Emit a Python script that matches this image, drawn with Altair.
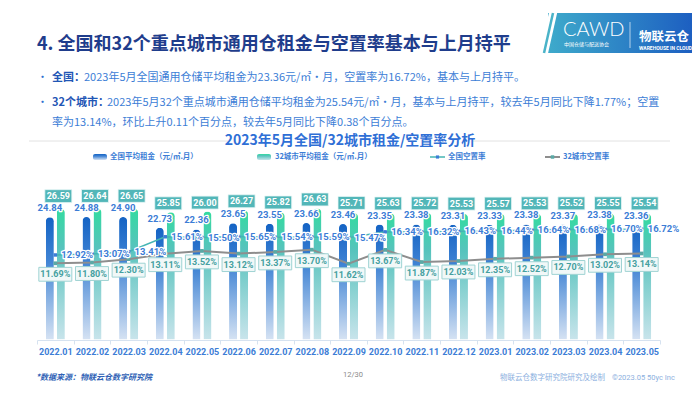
import altair as alt
import pandas as pd

# ---------------- data ----------------
months = ["2022.01", "2022.02", "2022.03", "2022.04", "2022.05", "2022.06", "2022.07", "2022.08",
          "2022.09", "2022.10", "2022.11", "2022.12", "2023.01", "2023.02", "2023.03", "2023.04", "2023.05"]
rent_nat = [24.84, 24.88, 24.90, 22.73, 22.36, 23.65, 23.55, 23.66, 23.46, 23.35, 23.38, 23.31,
            23.33, 23.38, 23.37, 23.38, 23.36]
rent_city = [26.59, 26.64, 26.65, 25.85, 26.00, 26.27, 25.82, 26.63, 25.71, 25.63, 25.72, 25.53,
             25.57, 25.53, 25.52, 25.55, 25.54]
vac_nat = [12.92, 13.07, 13.41, 15.61, 15.50, 15.65, 15.54, 15.59, 15.47, 16.34, 16.32, 16.43,
           16.44, 16.64, 16.68, 16.70, 16.72]
vac_city = [11.69, 11.80, 12.30, 13.11, 13.52, 13.12, 13.37, 13.70, 11.62, 13.67, 11.87, 12.03,
            12.35, 12.52, 12.70, 13.02, 13.14]
series_names = ["全国", "32城市"]

wide = pd.DataFrame({"month": months, "rent_nat": rent_nat, "rent_city": rent_city,
                     "vac_nat": vac_nat, "vac_city": vac_city})
long = pd.concat([
    pd.DataFrame({"month": months, "series": series_names[0], "rent": rent_nat}),
    pd.DataFrame({"month": months, "series": series_names[1], "rent": rent_city}),
], ignore_index=True)
dummy = pd.DataFrame({"a": [0]})

CJK = "Noto Sans CJK SC"
NUM = "Roboto"
BLUE = "#3c7dd6"

# ---------------- scales ----------------
X = alt.Scale(domain=months, range=[29, 652], paddingInner=0, paddingOuter=0)
XO = alt.Scale(domain=series_names, paddingInner=0.27, paddingOuter=0.8)
YR = alt.Scale(domain=[0, 30], range=[331.5, 183.9], nice=False, zero=False)
YV = alt.Scale(domain=[0, 20], range=[334.3, 199.1], nice=False, zero=False)
AX = alt.Axis(offset=-45, orient="bottom", title=None, grid=False, labelAngle=0,
              domainColor="#d6e2f0", tickColor="#d6e2f0", tickSize=4, tickBand="extent",
              labelColor=BLUE, labelFont=NUM, labelFontWeight="bold", labelFontSize=9,
              labelPadding=3, labelOverlap=False)


def grad(stops, horizontal=False):
    return alt.Gradient(gradient="linear",
                        stops=[alt.GradientStop(color=c, offset=o) for o, c in stops],
                        x1=0, x2=1 if horizontal else 0, y1=0, y2=0 if horizontal else 1)


G_NAT = [(0, "#1463c4"), (0.35, "#3f83d4"), (1, "#d5e2f3")]
G_CITY = [(0, "#33dba0"), (0.3, "#57c3bd"), (1, "#c8e4eb")]

xm = alt.X("month:N", scale=X, axis=AX)

# ---------------- bars ----------------
bars_nat = alt.Chart(long).transform_filter(alt.datum.series == series_names[0]).mark_bar(
    color=grad(G_NAT), cornerRadiusTopLeft=4, cornerRadiusTopRight=4
).encode(x=xm, xOffset=alt.XOffset("series:N", scale=XO),
         y=alt.Y("rent:Q", scale=YR, axis=None))
bars_city = alt.Chart(long).transform_filter(alt.datum.series == series_names[1]).mark_bar(
    color=grad(G_CITY), cornerRadiusTopLeft=4, cornerRadiusTopRight=4
).encode(x=xm, xOffset=alt.XOffset("series:N", scale=XO),
         y=alt.Y("rent:Q", scale=YR, axis=None))

base = alt.Chart(wide)

# ---------------- lines ----------------
line_city = base.mark_line(color="#8e8e8e", strokeWidth=2).encode(
    x=xm, y=alt.Y("vac_city:Q", scale=YV, axis=None))
pts_city = base.mark_point(shape="square", size=14, filled=True, color="#5aa9a6", opacity=1).encode(
    x=xm, y=alt.Y("vac_city:Q", scale=YV, axis=None))
line_nat = base.mark_line(color="#45b5b3", strokeWidth=1.5).encode(
    x=xm, y=alt.Y("vac_nat:Q", scale=YV, axis=None))
pts_nat = base.mark_point(shape="square", size=12, filled=True, color=BLUE, opacity=1).encode(
    x=xm, y=alt.Y("vac_nat:Q", scale=YV, axis=None))

# ---------------- labels ----------------
rent_lbl_halo = base.mark_text(dx=-5.5, dy=-4, baseline="bottom", font=NUM, fontWeight="bold",
                               fontSize=9.5, color="white", stroke="white", strokeWidth=2.5,
                               strokeJoin="round").encode(
    x=xm, y=alt.Y("rent_nat:Q", scale=YR, axis=None), text=alt.Text("rent_nat:Q", format=".2f"))
rent_lbl = base.mark_text(dx=-5.5, dy=-4, baseline="bottom", font=NUM, fontWeight="bold",
                          fontSize=9.5, color=BLUE).encode(
    x=xm, y=alt.Y("rent_nat:Q", scale=YR, axis=None), text=alt.Text("rent_nat:Q", format=".2f"))

boxed = base.transform_calculate(box_pos="max(datum.rent_city + 1.83, datum.rent_nat + 4.3)")
city_box = boxed.mark_point(shape="M-1,-0.48H1V0.48H-1Z", size=729, filled=True, fill="#52b6b8",
                            color="#52b6b8", stroke="#e8f6f6", strokeWidth=0.8, opacity=1,
                            xOffset=3).encode(
    x=xm, y=alt.Y("box_pos:Q", scale=YR, axis=None))
city_txt = boxed.mark_text(dx=3, baseline="middle", font=NUM, fontWeight="bold", fontSize=9,
                           color="white").encode(
    x=xm, y=alt.Y("box_pos:Q", scale=YR, axis=None), text=alt.Text("rent_city:Q", format=".2f"))

vl = base.transform_calculate(lbl="format(datum.vac_nat, '.2f') + '%'")
vac_halo = vl.mark_text(align="left", dx=6, baseline="middle", font=NUM, fontWeight="bold",
                        fontSize=9.5, color="white", stroke="white", strokeWidth=2.5,
                        strokeJoin="round").encode(
    x=xm, y=alt.Y("vac_nat:Q", scale=YV, axis=None), text="lbl:N")
vac_txt = vl.mark_text(align="left", dx=6, baseline="middle", font=NUM, fontWeight="bold",
                       fontSize=9.5, color=BLUE).encode(
    x=xm, y=alt.Y("vac_nat:Q", scale=YV, axis=None), text="lbl:N")

vc = base.transform_calculate(lbl="format(datum.vac_city, '.2f') + '%'")
gray_box = vc.mark_point(shape="M-1,-0.42H1V0.42H-1Z", size=1089, filled=True, fill="#f1f8f8",
                         color="#f1f8f8", stroke="#9fd3d3", strokeWidth=1, opacity=1,
                         yOffset=11).encode(
    x=xm, y=alt.Y("vac_city:Q", scale=YV, axis=None))
gray_txt = vc.mark_text(dy=11, baseline="middle", font=NUM, fontWeight="bold", fontSize=9,
                        color="#45a0a0").encode(
    x=xm, y=alt.Y("vac_city:Q", scale=YV, axis=None), text="lbl:N")


# ---------------- slide decorations ----------------
def txt(s, x, y, size, color, weight="normal", align="left", font=CJK, style="normal"):
    return alt.Chart(dummy).mark_text(text=s, align=align, baseline="middle", font=font,
                                      fontSize=size, fontWeight=weight, color=color,
                                      fontStyle=style).encode(x=alt.value(x), y=alt.value(y))


def rule(x1, y1, x2, y2, color, w):
    return alt.Chart(dummy).mark_rule(color=color, strokeWidth=w).encode(
        x=alt.value(x1), y=alt.value(y1), x2=alt.value(x2), y2=alt.value(y2))


def box(x1, y1, x2, y2, color, r=0):
    return alt.Chart(dummy).mark_rect(color=color, cornerRadius=r).encode(
        x=alt.value(x1), y=alt.value(y1), x2=alt.value(x2), y2=alt.value(y2))


def dot(x, y, color, size=14):
    return alt.Chart(dummy).mark_point(shape="square", size=size, filled=True, color=color,
                                       opacity=1).encode(x=alt.value(x), y=alt.value(y))


deco = [
    txt("4. 全国和32个重点城市通用仓租金与空置率基本与上月持平", 29, 37, 18, "#1f3d8c", "bold"),
    # logo
    box(540, 5, 684, 45, grad([(0, "#3eaacb"), (1, "#1d5fc1")], horizontal=True)),
    rule(535.3, 48, 545.7, 2, "white", 8),
    rule(536, 45, 545, 5, "#4ab3c8", 2.5),
    txt("CAWD", 555, 22, 20, "white", 300, font="Lato"),
    txt("中国仓储与配送协会", 556, 36, 5, "white"),
    rule(622, 14, 622, 40, "#d8e6f6", 0.8),
    txt("物联云仓", 631, 29, 12.5, "white", "bold"),
    txt("WAREHOUSE IN CLOUD", 631, 40, 5, "white", "bold", font=NUM),
    # bullets
    txt("•", 29, 70, 11, "#2f6fd0"),
    txt("全国：", 44, 70, 11, "#1f56b5", "bold"),
    txt("2023年5月全国通用仓储平均租金为23.36元/㎡·月，空置率为16.72%，基本与上月持平。", 76, 70, 11, BLUE),
    txt("•", 29, 95, 11, "#2f6fd0"),
    txt("32个城市：", 44, 95, 11, "#1f56b5", "bold"),
    txt("2023年5月32个重点城市通用仓储平均租金为25.54元/㎡·月，基本与上月持平，较去年5月同比下降1.77%；空置",
        99, 95, 11, BLUE),
    txt("率为13.14%，环比上升0.11个百分点，较去年5月同比下降0.38个百分点。", 44, 115, 11, BLUE),
    # chart title
    rule(21, 133, 220, 133, "#e2e2e2", 1),
    rule(464, 133, 662, 133, "#e2e2e2", 1),
    txt("2023年5月全国/32城市租金/空置率分析", 342, 133, 14, "#2f6fd6", "bold", align="center"),
    # legend
    box(85, 146, 99, 152, grad(G_NAT), 2),
    txt("全国平均租金（元/㎡.月）", 102, 149, 7.5, BLUE, "bold"),
    box(249, 146, 263, 152, grad(G_CITY), 2),
    txt("32城市平均租金（元/㎡.月）", 267, 149, 7.5, BLUE, "bold"),
    rule(422, 149, 437, 149, "#45b5b3", 1.5),
    dot(429.5, 149, BLUE, 10),
    txt("全国空置率", 440, 149, 7.5, BLUE, "bold"),
    rule(537, 149, 552, 149, "#8e8e8e", 2),
    dot(544.5, 149, "#5aa9a6", 12),
    txt("32城市空置率", 555, 149, 7.5, BLUE, "bold"),
    # footer
    txt("*数据来源：物联云仓数字研究院", 28, 370, 8, "#2e5fb5", "bold", style="italic"),
    txt("12/30", 345, 367, 7.5, "#8a8a8a", align="center", font=NUM),
    txt("物联云仓数字研究院研究及绘制", 492, 370, 7.5, "#8cb0e0"),
    txt("©2023.05 50yc Inc", 604, 370, 7.5, "#8cb0e0", font=NUM),
]

chart = alt.layer(
    bars_nat, bars_city,
    line_city, pts_city, line_nat, pts_nat,
    rent_lbl_halo, rent_lbl, city_box, city_txt,
    vac_halo, vac_txt, gray_box, gray_txt,
    *deco
).resolve_scale(y="independent").properties(
    width=684, height=377, autosize=alt.AutoSizeParams(type="none"), padding=0
).configure_view(stroke=None)

chart.save("out.html", embed_options={"renderer": "svg", "actions": False})
